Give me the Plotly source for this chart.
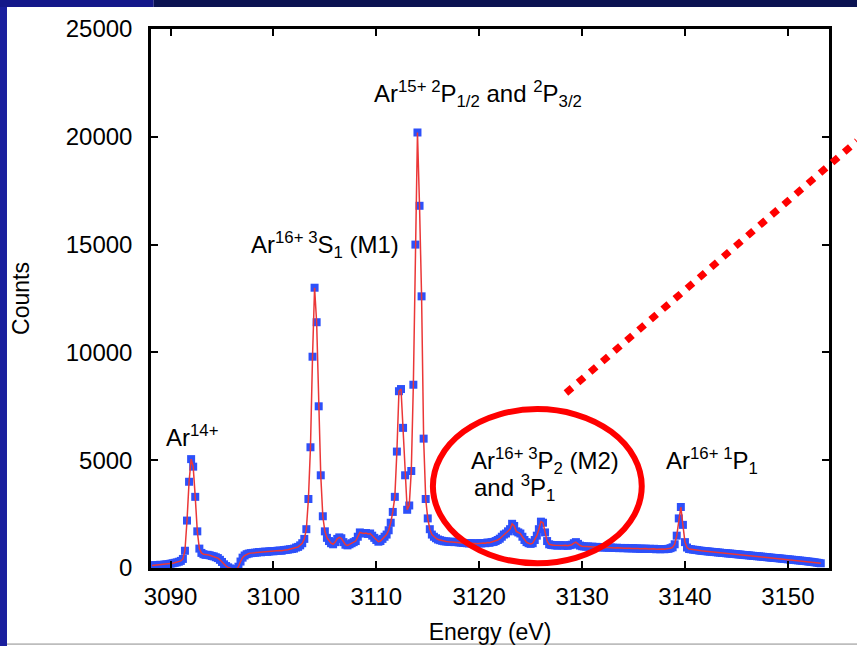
import numpy as np
import plotly.graph_objects as go

# Energy grid (eV), 0.2 eV step
energy_start = 3088.2
energy_step = 0.2

# Counts, 10 values per row (2 eV per row)
counts = [
    120, 130, 120, 140, 150, 140, 160, 170, 180, 200,          # 3088.2-3090.0
    220, 240, 260, 290, 330, 420, 800, 2200, 4000, 5050,       # 3090.2-3092.0
    4700, 3300, 1700, 900, 700, 640, 610, 610, 590, 560,       # 3092.2-3094.0
    540, 500, 460, 380, 280, 170, 90, 30, -20, -60,            # 3094.2-3096.0
    -80, -60, 60, 300, 480, 580, 640, 670, 690, 700,           # 3096.2-3098.0
    710, 720, 740, 730, 750, 760, 750, 770, 780, 775,          # 3098.2-3100.0
    790, 800, 810, 800, 830, 840, 850, 870, 880, 900,          # 3100.2-3102.0
    950, 980, 1050, 1150, 1350, 1800, 3200, 5600, 9800, 13000, # 3102.2-3104.0
    11400, 7500, 4300, 2400, 1700, 1400, 1250, 1150, 1100, 1200,  # 3104.2-3106.0
    1350, 1420, 1380, 1200, 1080, 1050, 1100, 1150, 1200, 1250,   # 3106.2-3108.0
    1450, 1650, 1620, 1600, 1620, 1580, 1600, 1500, 1400, 1300,   # 3108.2-3110.0
    1220, 1250, 1350, 1450, 1550, 1750, 2100, 2600, 3300, 5400,   # 3110.2-3112.0
    8200, 8300, 6500, 4300, 2700, 2900, 4500, 8500, 15000, 20200, # 3112.2-3114.0
    16800, 12600, 6000, 3200, 2300, 1800, 1550, 1450, 1380, 1320, # 3114.2-3116.0
    1290, 1260, 1240, 1230, 1220, 1210, 1220, 1200, 1210, 1190,   # 3116.2-3118.0
    1180, 1170, 1160, 1150, 1140, 1150, 1130, 1140, 1130, 1150,   # 3118.2-3120.0
    1140, 1160, 1150, 1180, 1170, 1200, 1210, 1250, 1300, 1360,   # 3120.2-3122.0
    1450, 1550, 1600, 1700, 1800, 2050, 1950, 1700, 1650, 1600,   # 3122.2-3124.0
    1450, 1300, 1200, 1150, 1120, 1150, 1300, 1500, 1800, 2150,   # 3124.2-3126.0
    2100, 1650, 1250, 1100, 1070, 1060, 1050, 1040, 1060, 1050,   # 3126.2-3128.0
    1040, 1050, 1030, 1060, 1080, 1150, 1200, 1120, 1040, 1010,   # 3128.2-3130.0
    1000, 990, 1000, 980, 990, 970, 980, 960, 970, 950,           # 3130.2-3132.0
    960, 950, 940, 950, 940, 930, 940, 920, 930, 920,             # 3132.2-3134.0
    930, 910, 920, 910, 920, 900, 910, 890, 900, 890,             # 3134.2-3136.0
    900, 880, 890, 880, 890, 870, 880, 870, 880, 870,             # 3136.2-3138.0
    880, 890, 920, 960, 1100, 1500, 2300, 2830, 2000, 1200,       # 3138.2-3140.0
    950, 880, 870, 850, 840, 830, 810, 800, 790, 780,             # 3140.2-3142.0
    770, 760, 750, 740, 735, 720, 715, 700, 695, 685,             # 3142.2-3144.0
    675, 670, 660, 650, 640, 630, 625, 610, 600, 595,             # 3144.2-3146.0
    585, 575, 565, 555, 545, 540, 530, 520, 510, 500,             # 3146.2-3148.0
    490, 480, 470, 465, 455, 445, 435, 425, 415, 405,             # 3148.2-3150.0
    395, 385, 375, 365, 355, 345, 335, 325, 315, 300,             # 3150.2-3152.0
    290, 280, 265, 250, 235, 220,                                 # 3152.2-3153.2
]
energy = np.round(energy_start + energy_step * np.arange(len(counts)), 2)

x_ticks = [3090, 3100, 3110, 3120, 3130, 3140, 3150]
y_ticks = [0, 5000, 10000, 15000, 20000, 25000]
x_range = [3088.1, 3154.0]
y_range = [0, 25000]

FONT = "Liberation Sans, Arial, Helvetica, sans-serif"

fig = go.Figure()
fig.add_trace(go.Scatter(
    x=energy, y=counts, mode="markers",
    marker=dict(symbol="square", size=8, color="rgb(45,80,250)", line=dict(width=0)),
    showlegend=False, hoverinfo="skip"))
fig.add_trace(go.Scatter(
    x=energy, y=counts, mode="lines",
    line=dict(color="rgb(235,55,55)", width=1.5),
    showlegend=False))

axis_common = dict(
    showline=True, linecolor="black", linewidth=2.5, mirror="allticks",
    ticks="inside", ticklen=7, tickwidth=2, tickcolor="black",
    showgrid=False, zeroline=False, tickformat="d", automargin=False,
    tickfont=dict(family=FONT, size=24, color="black"),
)
fig.update_xaxes(range=x_range, tickvals=x_ticks, ticklabelstandoff=5,
                 title=dict(text="Energy (eV)", font=dict(family=FONT, size=23, color="black"), standoff=16),
                 **axis_common)
fig.update_yaxes(range=y_range, tickvals=y_ticks, ticklabelstandoff=11,
                 title=dict(text="Counts", font=dict(family=FONT, size=23, color="black"), standoff=30),
                 **axis_common)

ann_font = dict(family=FONT, size=24, color="black")
annotations = [
    dict(x=3092.1, y=6100, text="Ar<sup>14+</sup>", xanchor="center"),
    dict(x=3105.0, y=15000, text="Ar<sup>16+ 3</sup>S<sub>1</sub> (M1)", xanchor="center"),
    dict(x=3119.9, y=22000, text="Ar<sup>15+ 2</sup>P<sub>1/2</sub> and <sup>2</sup>P<sub>3/2</sub>", xanchor="center"),
    dict(x=3119.0, y=4950, text="Ar<sup>16+ 3</sup>P<sub>2</sub> (M2)", xanchor="left"),
    dict(x=3119.3, y=3700, text="and <sup>3</sup>P<sub>1</sub>", xanchor="left"),
    dict(x=3138.0, y=4950, text="Ar<sup>16+ 1</sup>P<sub>1</sub>", xanchor="left"),
]
for a in annotations:
    fig.add_annotation(xref="x", yref="y", showarrow=False, yanchor="middle",
                       font=ann_font, **a)

# slide decorations (blue frame strips)
shapes = [
    dict(type="rect", xref="paper", yref="paper", x0=-0.23, x1=-0.2124, y0=-0.2, y1=1.06,
         fillcolor="#1a1f9e", line=dict(width=0), layer="above"),
    dict(type="rect", xref="paper", yref="paper", x0=-0.23, x1=0.004, y0=1.0408, y1=1.06,
         fillcolor="#14188a", line=dict(width=0), layer="above"),
    dict(type="rect", xref="paper", yref="paper", x0=0.004, x1=1.05, y0=1.0408, y1=1.06,
         fillcolor="#0b1352", line=dict(width=0), layer="above"),
    dict(type="rect", xref="paper", yref="paper", x0=-0.2124, x1=1.05, y0=-0.1394, y1=-0.1430,
         fillcolor="#bdbdbd", line=dict(width=0), layer="above"),
    # red ellipse highlighting the M2 region
    dict(type="circle", xref="x", yref="y", x0=3115.5, x1=3135.8, y0=220, y1=7370,
         line=dict(color="#ff0000", width=6), layer="above"),
    # red dotted pointer line
    dict(type="line", xref="paper", yref="paper", x0=0.612, y0=0.3247, x1=1.0413, y1=0.792,
         line=dict(color="#ff0000", width=7, dash="8px,8px"), layer="above"),
]
fig.update_layout(
    width=857, height=646,
    margin=dict(l=151, r=28, t=29, b=78),
    paper_bgcolor="white", plot_bgcolor="white",
    shapes=shapes, showlegend=False,
)
fig.write_html("out.html", config={"displayModeBar": False},
               post_script="document.body.style.margin='0px';document.body.style.overflow='hidden';")
